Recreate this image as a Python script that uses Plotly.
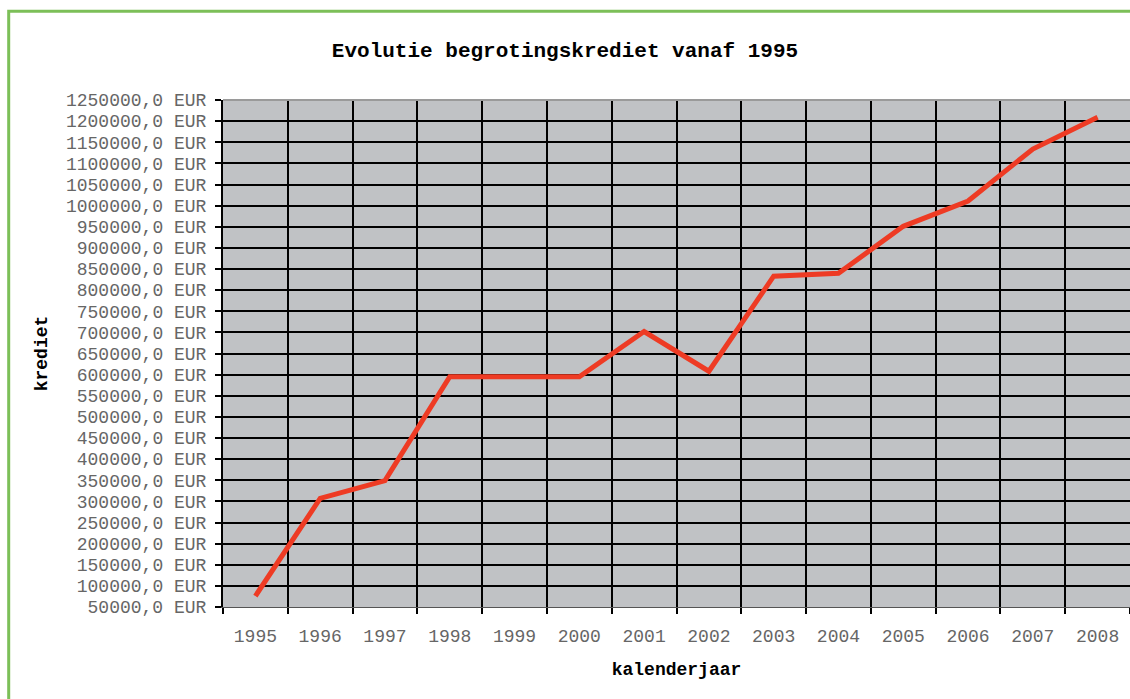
import plotly.graph_objects as go

years = ["1995", "1996", "1997", "1998", "1999", "2000", "2001",
         "2002", "2003", "2004", "2005", "2006", "2007", "2008"]
krediet = [76000, 307000, 349000, 595000, 595000, 595000, 702000,
           608000, 833000, 840000, 951000, 1011000, 1134000, 1209000]
y_ticks = list(range(50000, 1250001, 50000))
y_tick_text = [f"{v},0 EUR" for v in y_ticks]

W, H = 1130, 699
L, R, T, B = 223, 0, 100, 92
pw, ph = W - L - R, H - T - B

mono = "Courier New, Liberation Mono, monospace"

fig = go.Figure()
fig.add_trace(go.Scatter(
    x=years, y=krediet, mode="lines",
    line=dict(color="#EE3B24", width=5), showlegend=False,
    hoverinfo="x+y"))

def px_x(p):
    return (p - L) / pw

def px_y(p):
    return 1 - (p - T) / ph

fig.update_layout(
    width=W, height=H,
    margin=dict(l=L, r=R, t=T, b=B),
    paper_bgcolor="white",
    plot_bgcolor="#C0C2C5",
    title=dict(text="<b>Evolutie begrotingskrediet vanaf 1995</b>",
               x=0.5, xanchor="center", y=1 - 50 / H, yanchor="middle",
               font=dict(family=mono, size=21, color="black")),
    font=dict(family=mono),
    xaxis=dict(
        type="category",
        range=[-0.5, len(years) - 0.5],
        tickson="boundaries", ticks="outside", ticklen=6, tickcolor="black",
        tickwidth=2,
        showgrid=True, gridcolor="black", gridwidth=2,
        showline=True, linecolor="#555", linewidth=1,
        tickfont=dict(family=mono, size=18, color="#666666"),
        ticklabelstandoff=12,
        title=dict(text="<b>kalenderjaar</b>", standoff=16,
                   font=dict(family=mono, size=18, color="black")),
        zeroline=False, fixedrange=True,
    ),
    yaxis=dict(
        range=[50000, 1250000],
        tickmode="array", tickvals=y_ticks, ticktext=y_tick_text,
        ticks="outside", ticklen=6, tickcolor="black", tickwidth=2,
        showgrid=True, gridcolor="black", gridwidth=2,
        showline=True, linecolor="black", linewidth=2,
        tickfont=dict(family=mono, size=18, color="#666666"),
        ticklabelstandoff=5,
        title=dict(text="<b>krediet</b>", standoff=14,
                   font=dict(family=mono, size=18, color="black")),
        zeroline=False, fixedrange=True,
    ),
    shapes=[
        dict(type="line", xref="paper", yref="paper",
             x0=0, x1=1, y0=1, y1=1,
             line=dict(color="#9a9a9a", width=2), layer="above"),
        dict(type="rect", xref="paper", yref="paper",
             x0=px_x(8.7), x1=px_x(1200), y0=px_y(800), y1=px_y(11.3),
             line=dict(color="#7CBF58", width=3), layer="above"),
    ],
)

fig.write_html(
    "out.html",
    config={"displayModeBar": False},
    post_script="document.body.style.margin='0';"
                "document.body.style.overflow='hidden';")
